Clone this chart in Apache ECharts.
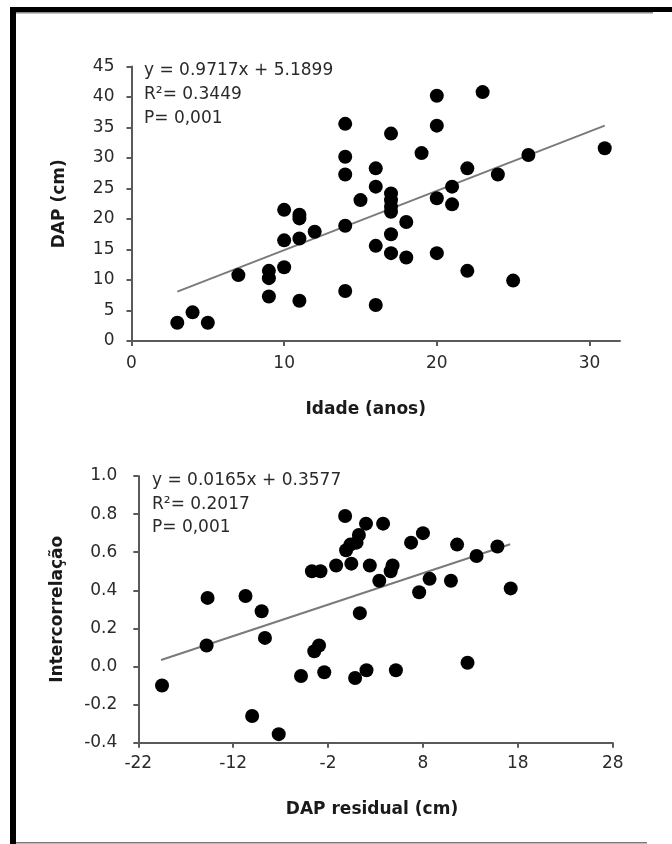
<!DOCTYPE html>
<html>
<head>
<meta charset="utf-8">
<script src="https://cdn.jsdelivr.net/npm/echarts@6/dist/echarts.min.js"></script>
<style>
html, body { margin: 0; padding: 0; background: #fff; }
#chart { width: 672px; height: 844px; }
</style>
</head>
<body>
<div id="chart"></div>
<script>
// top panel: Idade (anos) x DAP (cm)
const idade = [3, 4, 5, 7, 9, 9, 9, 10, 10, 10, 11, 11, 11, 11, 12, 14, 14, 14, 14, 14,
  15, 16, 16, 16, 16, 17, 17, 17, 17, 17, 17, 17, 18, 18, 19, 20, 20, 20, 20, 21,
  21, 22, 22, 23, 24, 25, 26, 31];
const dap = [3.0, 4.7, 3.0, 10.8, 11.5, 10.3, 7.3, 21.5, 16.5, 12.1, 20.7, 20.1, 16.8, 6.6, 17.9, 35.6, 30.2, 27.3, 18.9, 8.2,
  23.1, 28.3, 25.3, 15.6, 5.9, 34.0, 24.2, 23.1, 22.0, 21.2, 17.5, 14.4, 19.5, 13.7, 30.8, 40.2, 35.3, 23.4, 14.4, 25.3,
  22.4, 28.3, 11.5, 40.8, 27.3, 9.9, 30.5, 31.6];
const idadeTicks = [0, 10, 20, 30];
// trend line ends as drawn
const fitIdade = [3, 31];
const fitDap = [8.1, 35.3];
const eqTop = ['y = 0.9717x + 5.1899', 'R²= 0.3449', 'P= 0,001'];

// bottom panel: DAP residual (cm) x Intercorrelação
const dapResidual = [-19.5, -14.7, -14.8, -10.7, -10.0, -9.0, -8.65, -7.2, -4.85, -3.7, -2.8, -3.45, -2.95, -2.4, -1.15,
  -0.2, -0.1, 0.35, 1.0, 1.25, 0.45, 0.85, 1.35, 2.0, 2.05, 2.4, 3.4, 3.8, 4.6, 4.8, 5.15,
  6.75, 7.6, 8.0, 8.7, 10.95, 11.6, 12.7, 13.65, 15.85, 17.25];
const intercorrelacao = [-0.10, 0.36, 0.11, 0.37, -0.26, 0.29, 0.15, -0.355, -0.05, 0.50, 0.50, 0.08, 0.11, -0.03, 0.53,
  0.79, 0.61, 0.64, 0.65, 0.69, 0.54, -0.06, 0.28, 0.75, -0.02, 0.53, 0.45, 0.75, 0.50, 0.53, -0.02,
  0.65, 0.39, 0.70, 0.46, 0.45, 0.64, 0.02, 0.58, 0.63, 0.41];
const fitResidual = [-19.6, 17.2];
const fitInter = [0.034, 0.642];
const eqBottom = ['y = 0.0165x + 0.3577', 'R²= 0.2017', 'P= 0,001'];

const zip = (a, b) => a.map((v, i) => [v, b[i]]);

const chart = echarts.init(document.getElementById('chart'));

const axisColor = '#5a5a5a';
const labelStyle = { color: '#2a2a2a', fontFamily: 'DejaVu Sans', fontSize: 17 };
const nameStyle = { color: '#1a1a1a', fontFamily: 'DejaVu Sans', fontSize: 17, fontWeight: 'bold' };
const lineStyle = { color: axisColor, width: 2 };

function eqText(lines, x, y0, step) {
    return lines.map((t, i) => ({
        type: 'text', x: x, y: y0 + i * step, z: 10,
        style: { text: t, fill: '#2a2a2a', font: '17px "DejaVu Sans"', verticalAlign: 'middle' }
    }));
}

const option = {
    animation: false,
    backgroundColor: '#fff',
    grid: [
        { left: 131.5, top: 66.5, width: 488.5, height: 274.5 },
        { left: 138.3, top: 476, width: 474.4, height: 266.7 }
    ],
    xAxis: [
        {
            gridIndex: 0, type: 'value', min: 0, max: 32,
            splitLine: { show: false },
            axisLine: { onZero: false, lineStyle: lineStyle },
            axisTick: { customValues: idadeTicks, length: 5, lineStyle: lineStyle },
            axisLabel: Object.assign({ customValues: idadeTicks, margin: 14 }, labelStyle),
            name: 'Idade (anos)', nameLocation: 'middle', nameGap: 60,
            nameTextStyle: Object.assign({ padding: [0, 20, 0, 0] }, nameStyle)
        },
        {
            gridIndex: 1, type: 'value', min: -22, max: 28, interval: 10,
            splitLine: { show: false },
            axisLine: { onZero: false, lineStyle: lineStyle },
            axisTick: { length: 5, lineStyle: lineStyle },
            axisLabel: Object.assign({ margin: 12 }, labelStyle),
            name: 'DAP residual (cm)', nameLocation: 'middle', nameGap: 58,
            nameTextStyle: Object.assign({ padding: [0, 7, 0, 0] }, nameStyle)
        }
    ],
    yAxis: [
        {
            gridIndex: 0, type: 'value', min: 0, max: 45, interval: 5,
            splitLine: { show: false },
            axisLine: { onZero: false, lineStyle: lineStyle },
            axisTick: { length: 5, lineStyle: lineStyle },
            axisLabel: Object.assign({ margin: 17 }, labelStyle),
            name: 'DAP (cm)', nameLocation: 'middle', nameGap: 63, nameTextStyle: nameStyle
        },
        {
            gridIndex: 1, type: 'value', min: -0.4, max: 1.0, interval: 0.2,
            splitLine: { show: false },
            axisLine: { onZero: false, lineStyle: lineStyle },
            axisTick: { length: 5, lineStyle: lineStyle },
            axisLabel: Object.assign({
                margin: 21,
                formatter: v => (Math.abs(v) < 1e-9 ? 0 : v).toFixed(1)
            }, labelStyle),
            name: 'Intercorrelação', nameLocation: 'middle', nameGap: 72, nameTextStyle: nameStyle
        }
    ],
    series: [
        {
            type: 'line', xAxisIndex: 0, yAxisIndex: 0, data: zip(fitIdade, fitDap),
            showSymbol: false, lineStyle: { color: '#7a7a7a', width: 2 }, z: 1
        },
        {
            type: 'scatter', xAxisIndex: 0, yAxisIndex: 0, data: zip(idade, dap),
            symbol: 'circle', symbolSize: 14, itemStyle: { color: '#000', opacity: 1 }, z: 3
        },
        {
            type: 'line', xAxisIndex: 1, yAxisIndex: 1, data: zip(fitResidual, fitInter),
            showSymbol: false, lineStyle: { color: '#7a7a7a', width: 2 }, z: 1
        },
        {
            type: 'scatter', xAxisIndex: 1, yAxisIndex: 1, data: zip(dapResidual, intercorrelacao),
            symbol: 'circle', symbolSize: 14, itemStyle: { color: '#000', opacity: 1 }, z: 3
        }
    ],
    graphic: [
        // frame
        { type: 'rect', shape: { x: 10, y: 7, width: 662, height: 5 }, style: { fill: '#000' } },
        { type: 'rect', shape: { x: 10, y: 7, width: 6, height: 837 }, style: { fill: '#000' } },
        { type: 'rect', shape: { x: 16, y: 12, width: 637, height: 1.5 }, style: { fill: '#888' } },
        { type: 'rect', shape: { x: 16, y: 842, width: 631, height: 1.5 }, style: { fill: '#777' } }
    ].concat(eqText(eqTop, 144, 71, 24), eqText(eqBottom, 152, 481, 23.5))
};

chart.setOption(option);
</script>
</body>
</html>
